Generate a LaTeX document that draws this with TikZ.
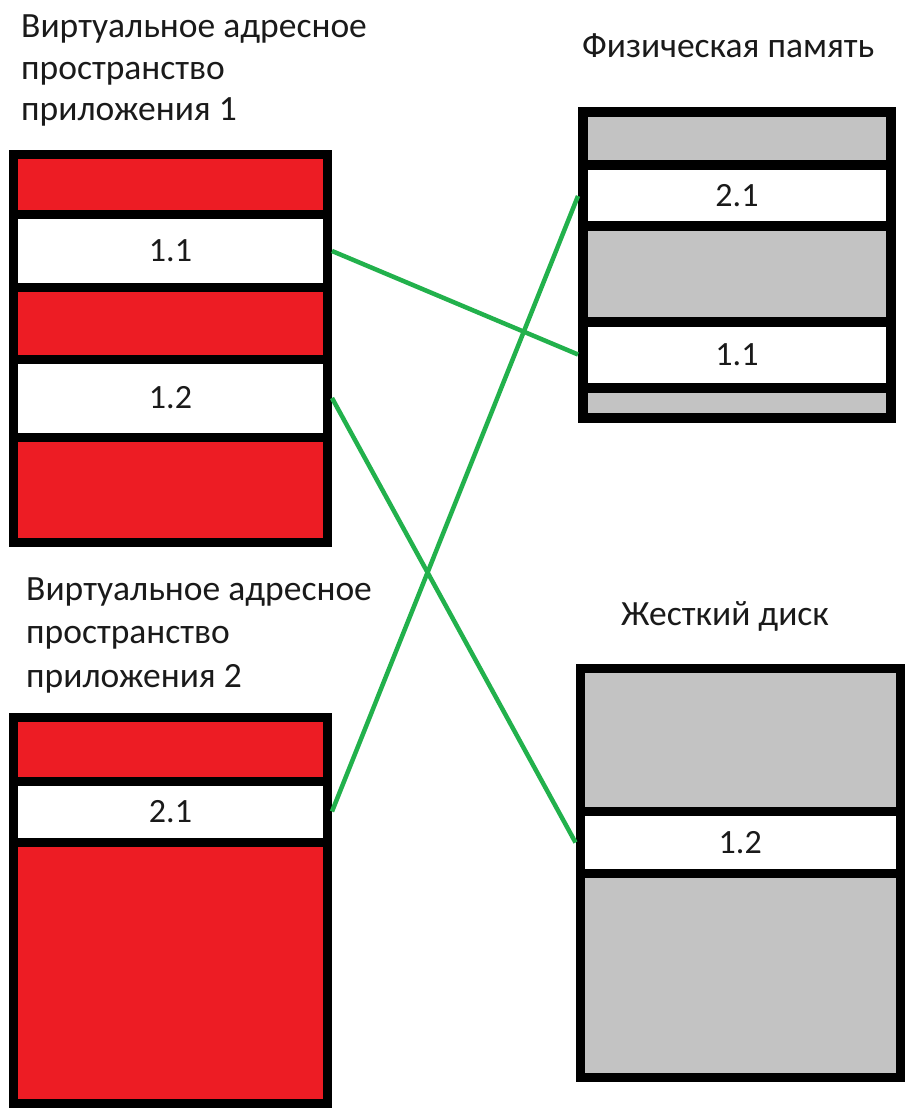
\documentclass[tikz,border=0pt]{standalone}
\usepackage{fontspec}
\setmainfont{Carlito}
\definecolor{pred}{HTML}{ED1C24}
\definecolor{pgray}{HTML}{C3C3C3}
\definecolor{pgreen}{HTML}{22B14C}
\definecolor{ptext}{HTML}{1A1A1A}
\newcommand{\mycell}[7]{%
  \node[cell, fill=#6, minimum width={#4-#2}, minimum height={#5-#3}]
    (#1) at ({(#2+#4)/2},{(#3+#5)/2}) {#7};}
\begin{document}
\begin{tikzpicture}[x=1pt, y=-1pt,
  cell/.style={draw=black, line width=9pt, inner sep=0pt, text=ptext,
    font=\fontsize{34}{36}\selectfont},
  title/.style={anchor=base west, inner sep=0pt, align=left, text=ptext},
  link/.style={draw=pgreen, line width=4.5pt}]
\useasboundingbox[fill=white] (0,0) rectangle (918,1115);

% titles (base anchor = last line's baseline)
\node[title, font=\fontsize{35.5}{41.5}\selectfont] (t1) at (21,121)
  {Виртуальное адресное\\пространство\\приложения 1};
\node[title, font=\fontsize{35.5}{43.5}\selectfont] (t2) at (26,687)
  {Виртуальное адресное\\пространство\\приложения 2};
\node[title, font=\fontsize{35.5}{36}\selectfont] (t3) at (582,58) {Физическая память};
\node[title, font=\fontsize{35.5}{36}\selectfont] (t4) at (621,625) {Жесткий диск};

% virtual space 1
\mycell{a1r1}{13.5}{154.5}{327.5}{215}{pred}{}
\mycell{a1c1}{13.5}{215}{327.5}{287}{white}{1.1}
\mycell{a1r2}{13.5}{287}{327.5}{359}{pred}{}
\mycell{a1c2}{13.5}{359}{327.5}{437}{white}{1.2}
\mycell{a1r3}{13.5}{437}{327.5}{542}{pred}{}

% virtual space 2
\mycell{a2r1}{13.5}{717}{327.5}{781}{pred}{}
\mycell{a2c1}{13.5}{781}{327.5}{842}{white}{2.1}
\mycell{a2r2}{13.5}{842}{327.5}{1103}{pred}{}

% physical memory
\tikzset{cell/.append style={line width=10pt}}
\mycell{p1}{583}{112}{891}{165.5}{pgray}{}
\mycell{p21}{583}{165.5}{891}{226.5}{white}{2.1}
\mycell{p2}{583}{226.5}{891}{321.5}{pgray}{}
\mycell{p11}{583}{321.5}{891}{387.5}{white}{1.1}
\mycell{p3}{583}{387.5}{891}{418}{pgray}{}

% hard disk
\tikzset{cell/.append style={line width=9pt}}
\mycell{d1}{580}{668.5}{900.5}{811.5}{pgray}{}
\mycell{d12}{580}{811.5}{900.5}{873.5}{white}{1.2}
\mycell{d2}{580}{873.5}{900.5}{1077.5}{pgray}{}

% connectors
\draw[link] (a1c1.east) -- (p11.west);
\draw[link] (a1c2.east) -- (d12.west);
\draw[link] (a2c1.east) -- (p21.west);
\end{tikzpicture}
\end{document}
